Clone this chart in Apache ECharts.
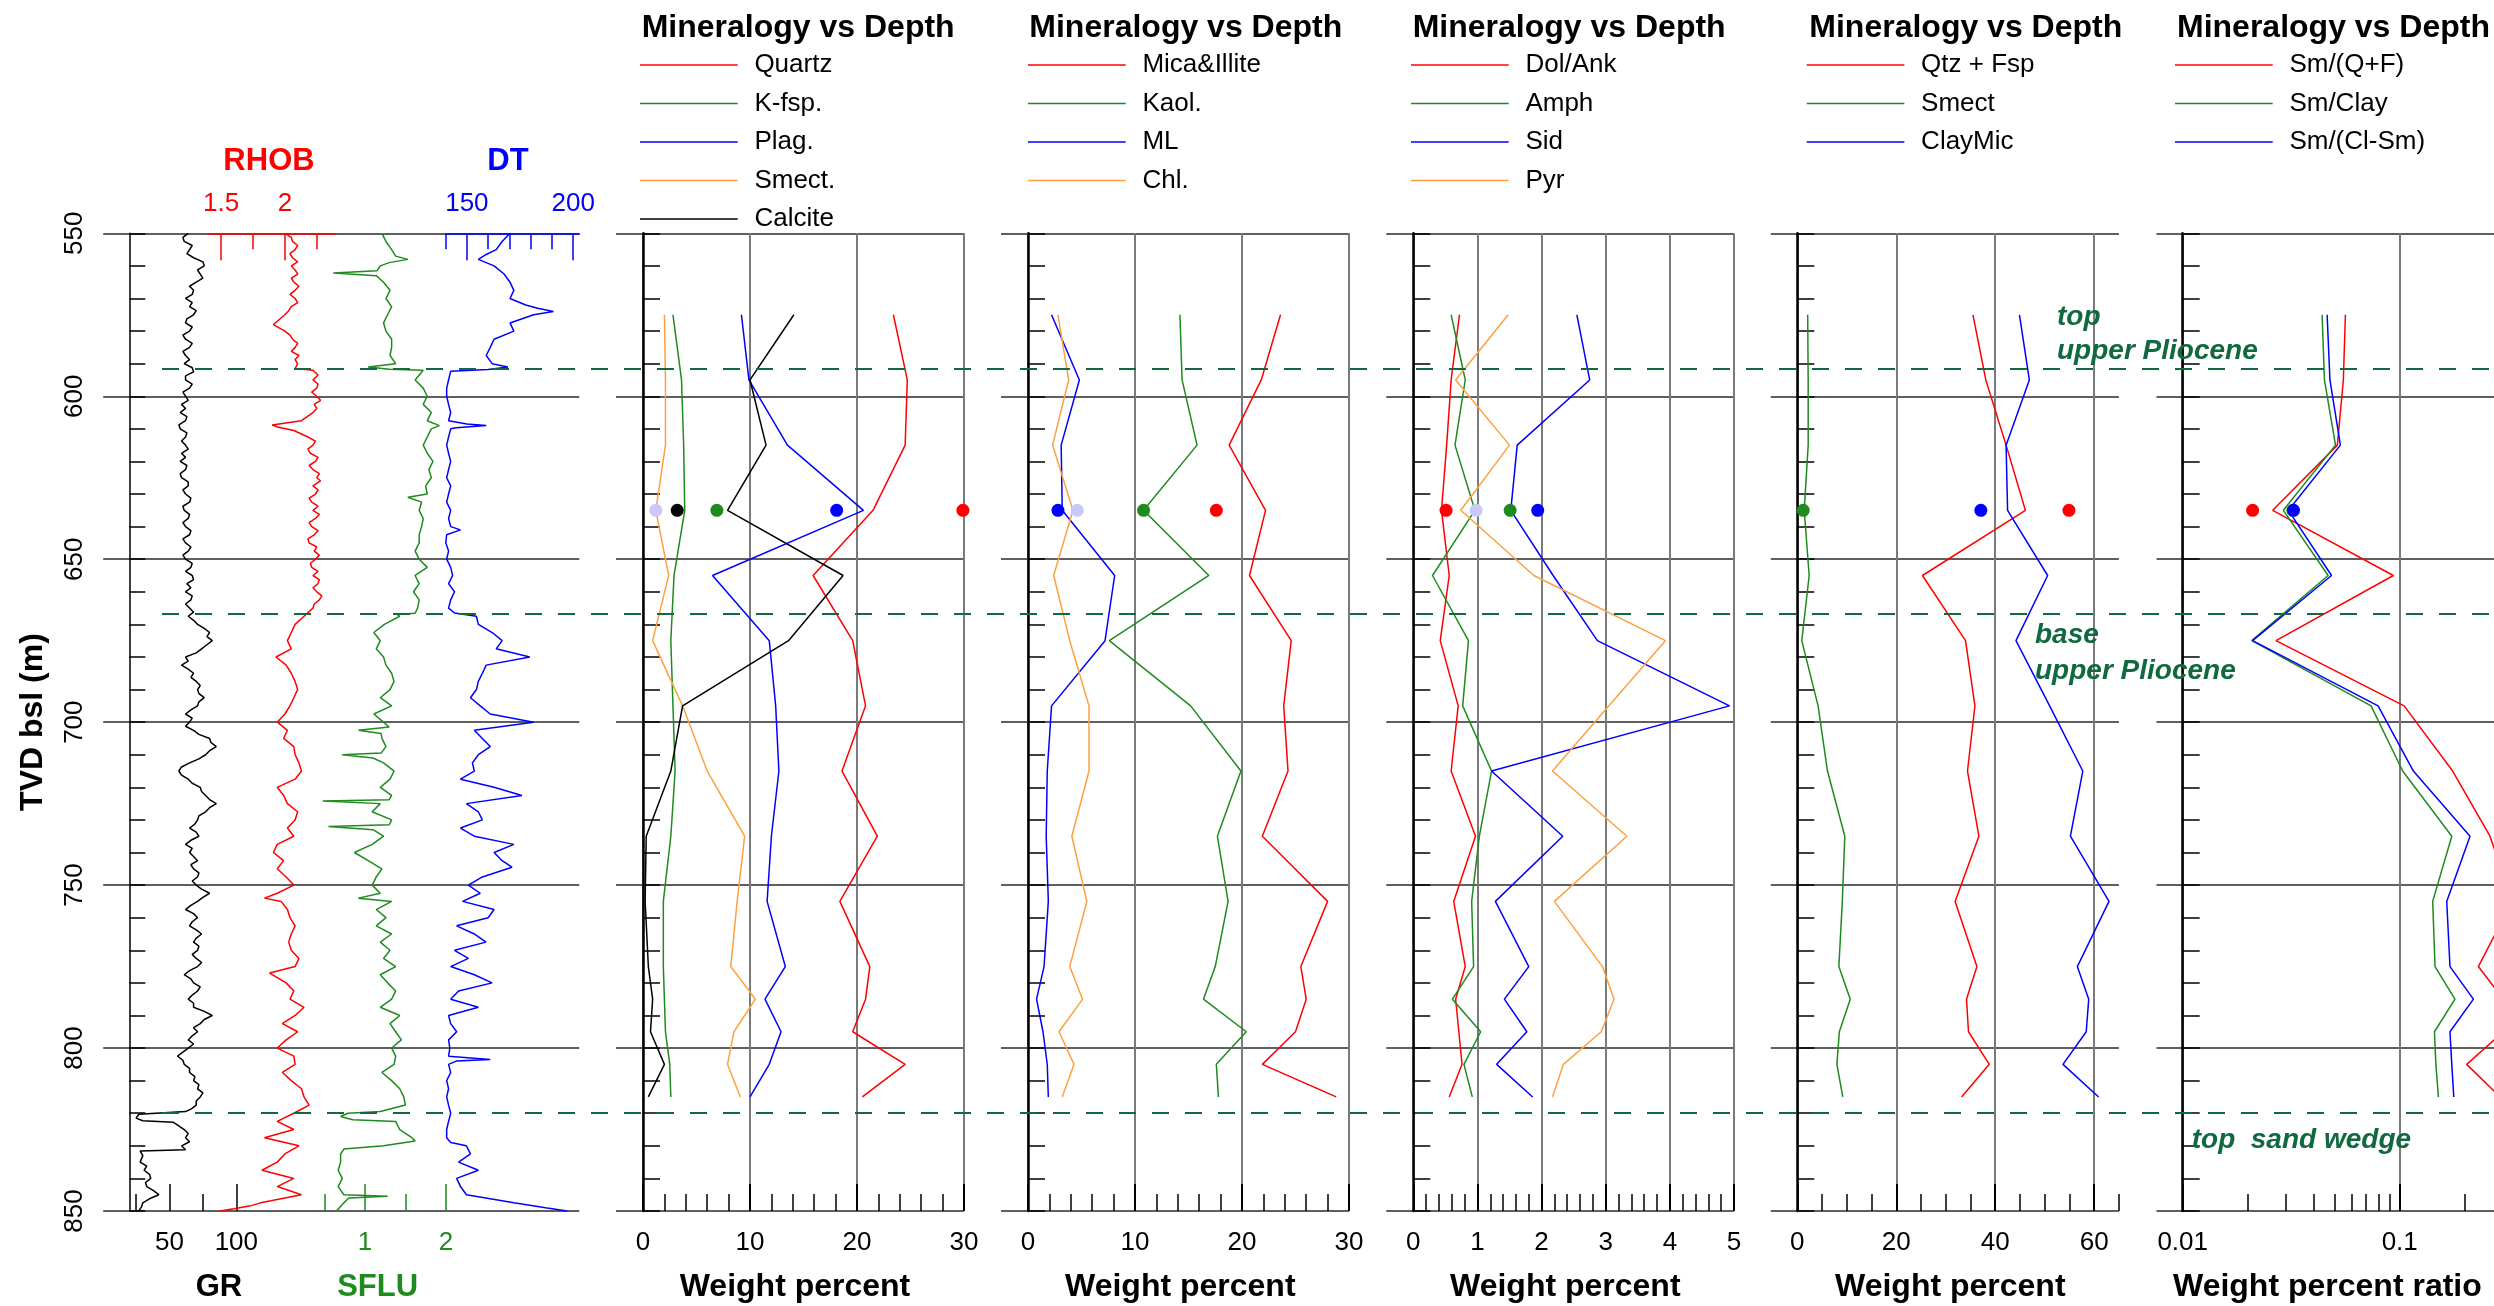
<!DOCTYPE html>
<html>
<head>
<meta charset="utf-8">
<title>Well logs and mineralogy vs depth</title>
<script src="https://cdn.jsdelivr.net/npm/echarts@6.0.0/dist/echarts.min.js"></script>
<style>
html,body{margin:0;padding:0;background:#fff;}
#chart{width:2494px;height:1306px;}
</style>
</head>
<body>
<div id="chart"></div>
<script>
// ================= DATA =================
const depthMin = 550, depthMax = 850;
const depthLabels = [550, 600, 650, 700, 750, 800, 850];

// Well logs: [depth (m), value]
const grLog = [[550,64],[551.25,60],[552.5,61],[553.75,67],[555,65],[556.25,63],[557.5,68],[558.75,75],[560,76],[561.25,71],[562.5,73],[563.75,75],[565,70],[566.25,65],[567.5,68],[568.75,67],[570,62],[571.25,67],[572.5,65],[573.75,70],[575,68],[576.25,63],[577.5,62],[578.75,67],[580,65],[581.25,60],[582.5,62],[583.75,67],[585,65],[586.25,60],[587.5,62],[588.75,65],[590,61],[591.25,67],[592.5,68],[593.75,62],[595,62],[596.25,67],[597.5,65],[598.75,60],[600,62],[601.25,64],[602.5,59],[603.75,62],[605,58],[606.25,63],[607.5,62],[608.75,57],[610,58],[611.25,63],[612.5,62],[613.75,59],[615,62],[616.25,64],[617.5,59],[618.75,62],[620,58],[621.25,63],[622.5,62],[623.75,58],[625,59],[626.25,64],[627.5,64],[628.75,60],[630,62],[631.25,66],[632.5,65],[633.75,60],[635,61],[636.25,65],[637.5,64],[638.75,60],[640,62],[641.25,66],[642.5,65],[643.75,60],[645,62],[646.25,66],[647.5,64],[648.75,60],[650,62],[651.25,67],[652.5,66],[653.75,62],[655,67],[656.25,68],[657.5,63],[658.75,66],[660,62],[661.25,67],[662.5,66],[663.75,62],[665,65],[666.25,68],[667.5,64],[668.75,68],[670,71],[671.25,76],[672.5,80],[673.75,78],[675,82],[676.25,78],[677.5,74],[678.75,70],[680,62],[681.25,64],[682.5,59],[683.75,64],[685,68],[686.25,66],[687.5,70],[688.75,73],[690,71],[691.25,72],[692.5,76],[693.75,72],[695,71],[696.25,66],[697.5,62],[698.75,67],[700,65],[701.25,62],[702.5,68],[703.75,72],[705,80],[706.25,81],[707.5,85],[708.75,80],[710,77],[711.25,72],[712.5,65],[713.75,59],[715,57],[716.25,59],[717.5,64],[718.75,67],[720,73],[721.25,74],[722.5,77],[723.75,80],[725,85],[726.25,80],[727.5,77],[728.75,72],[730,71],[731.25,69],[732.5,65],[733.75,70],[735,72],[736.25,66],[737.5,62],[738.75,67],[740,65],[741.25,68],[742.5,71],[743.75,66],[745,68],[746.25,72],[747.5,71],[748.75,67],[750,70],[751.25,74],[752.5,80],[753.75,75],[755,71],[756.25,66],[757.5,62],[758.75,68],[760,71],[761.25,67],[762.5,65],[763.75,70],[765,74],[766.25,70],[767.5,68],[768.75,72],[770,71],[771.25,67],[772.5,70],[773.75,74],[775,71],[776.25,65],[777.5,61],[778.75,66],[780,68],[781.25,73],[782.5,71],[783.75,67],[785,64],[786.25,68],[787.5,68],[788.75,76],[790,82],[791.25,76],[792.5,73],[793.75,68],[795,71],[796.25,67],[797.5,64],[798.75,68],[800,64],[801.25,60],[802.5,56],[803.75,60],[805,61],[806.25,65],[807.5,65],[808.75,69],[810,68],[811.25,72],[812.5,71],[813.75,75],[815,73],[816.25,70],[817.5,70],[818.75,66],[819.5,62],[820.3,27],[821.5,25],[822.3,30],[822.8,53],[825,61],[826.25,64],[827.5,62],[828.75,65],[830,59],[831.2,62],[831.6,28],[833,30],[835,28],[836.25,33],[837.5,31],[838.75,35],[840,36],[841.25,32],[842.5,33],[843.75,38],[845,42],[846.25,35],[847.5,30],[848.75,29],[850,27]];

const rhobLog = [[550,2.0],[551.25,2.05],[552.5,2.06],[553.75,2.1],[555,2.08],[556.25,2.04],[557.5,2.06],[558.75,2.1],[560,2.05],[561.25,2.08],[562.5,2.1],[563.75,2.05],[565,2.07],[566.25,2.11],[567.5,2.08],[568.75,2.04],[570,2.08],[571.25,2.1],[572.5,2.05],[573.75,2.03],[575,2.0],[577,1.94],[578,1.91],[580,2.0],[581.25,2.04],[582.5,2.06],[583.75,2.1],[585,2.08],[586.25,2.05],[587.5,2.11],[588.75,2.08],[590,2.1],[591.5,2.08],[592,2.22],[593.5,2.26],[595,2.22],[596.25,2.26],[597.5,2.25],[598.75,2.21],[600,2.25],[601.25,2.28],[602.5,2.23],[603.75,2.25],[605,2.22],[607.5,2.13],[608.8,1.9],[609.5,1.95],[610.5,2.07],[612.5,2.18],[613.75,2.24],[615,2.22],[616.25,2.18],[617.5,2.2],[618.75,2.26],[620,2.24],[621.25,2.19],[622.5,2.22],[623.75,2.27],[625,2.25],[626,2.28],[627.5,2.22],[628.75,2.26],[630,2.24],[631.25,2.19],[632.5,2.21],[633.75,2.26],[635,2.22],[636.25,2.27],[637.5,2.24],[638.75,2.19],[640,2.21],[641.25,2.26],[642.5,2.23],[643.75,2.18],[645,2.19],[646.25,2.25],[647.5,2.23],[648.75,2.27],[650,2.24],[651.25,2.2],[652.5,2.21],[653.75,2.26],[655,2.22],[656.25,2.27],[657.5,2.26],[658.75,2.22],[660,2.25],[661.25,2.29],[662.5,2.27],[663.75,2.23],[665,2.22],[667.5,2.15],[670,2.08],[672.5,2.05],[675,2.02],[677.5,2.05],[680,1.93],[682.5,2.01],[685,2.05],[687.5,2.08],[690,2.1],[692.5,2.07],[695,2.04],[697.5,2.0],[700,1.94],[702.5,2.02],[705,1.99],[707.5,2.07],[710,2.08],[712.5,2.11],[715,2.13],[717.5,2.08],[720,1.94],[722.5,1.99],[725,2.02],[727.5,2.1],[730,2.08],[732.5,2.02],[735,2.07],[737.5,1.94],[740,1.91],[742.5,1.99],[745,1.94],[747.5,2.01],[750,2.07],[752.5,1.94],[754,1.84],[755,1.97],[757.5,2.02],[760,2.04],[762.5,2.08],[765,2.05],[767.5,2.03],[770,2.05],[772.5,2.11],[775,2.08],[777,1.88],[780,2.01],[782.5,2.07],[785,2.04],[787.5,2.15],[790,2.08],[792.5,1.98],[795,2.1],[797.5,2.01],[800,1.94],[802.5,2.07],[805,2.08],[807.5,1.98],[810,2.05],[812.5,2.13],[815,2.15],[817.5,2.19],[820,2.07],[822.5,1.94],[825,2.07],[827.5,1.84],[830,2.11],[832.5,2.0],[835,1.94],[837.5,1.82],[840,2.07],[842.5,1.94],[845,2.13],[847.5,1.81],[848.5,1.72],[849.3,1.6],[850,1.49]];

const sfluLog = [[550,1.21],[552.5,1.26],[555,1.33],[557,1.38],[558,1.53],[559,1.3],[560,1.19],[561.5,1.15],[562.2,0.61],[563,1.14],[565,1.23],[567.5,1.31],[570,1.26],[572.5,1.33],[575,1.28],[577.5,1.23],[580,1.26],[582.5,1.33],[585,1.33],[587.5,1.31],[590,1.38],[591,1.04],[591.7,1.3],[592,1.72],[595,1.62],[597.5,1.72],[600,1.77],[602.5,1.72],[605,1.82],[607.5,1.77],[609,1.92],[610,1.82],[612.5,1.77],[615,1.72],[617.5,1.77],[620,1.84],[622.5,1.79],[625,1.82],[627.5,1.75],[630,1.77],[631,1.53],[632.5,1.7],[635,1.67],[637.5,1.72],[640,1.7],[642.5,1.67],[645,1.67],[647.5,1.62],[650,1.67],[652.5,1.77],[655,1.62],[657.5,1.67],[660,1.6],[662.5,1.67],[665,1.65],[666.6,1.62],[667,1.4],[667.5,1.43],[670,1.24],[672.5,1.11],[675,1.19],[677.5,1.14],[680,1.23],[682.5,1.26],[685,1.33],[687.5,1.36],[690,1.31],[692.5,1.19],[695,1.33],[697.5,1.11],[700,1.23],[701.5,1.3],[702.5,0.92],[703.5,1.2],[705,1.21],[707.5,1.26],[709.5,1.2],[710,0.72],[711,1.1],[712.5,1.23],[715,1.36],[717.5,1.31],[720,1.19],[722.5,1.33],[723.8,1.3],[724.2,0.48],[725,1.19],[727.5,1.09],[730,1.33],[731.5,1.3],[732,0.55],[733,1.1],[735,1.23],[737.5,1.09],[740,0.87],[742.5,1.04],[745,1.21],[747.5,1.14],[750,1.09],[752.5,1.19],[754,0.92],[755,1.33],[757.5,1.14],[760,1.26],[762.5,1.14],[765,1.33],[767.5,1.19],[770,1.31],[772.5,1.23],[775,1.38],[777.5,1.19],[780,1.28],[782.5,1.38],[785,1.33],[787.5,1.19],[790,1.43],[792.5,1.31],[795,1.38],[797.5,1.45],[800,1.33],[802.5,1.38],[805,1.36],[807.5,1.21],[810,1.33],[812.5,1.43],[815,1.48],[817.5,1.5],[819.5,1.19],[820,0.79],[821,0.7],[822,0.85],[822.5,1.38],[825,1.43],[827.5,1.58],[828.5,1.62],[830,1.23],[831,0.74],[832.5,0.7],[835,0.7],[837.5,0.67],[840,0.72],[842.5,0.67],[845,0.74],[845.5,1.28],[846,0.8],[847.5,0.74],[850,0.65]];

const dtLog = [[550,170.3],[552.5,166.6],[555,163.8],[556.5,159.1],[558,155.4],[560,162.8],[562.5,167.5],[565,170.3],[567.5,172.1],[570,170.3],[572,177.7],[573,183.3],[574,190.7],[575,181.4],[577.5,170.3],[580,172.1],[582.5,162.8],[585,161],[587.5,159.1],[590,161.9],[591,169.3],[591.8,160],[592.3,142.4],[595,141.4],[597.5,140.5],[600,140.5],[602.5,141.4],[605,142.4],[607.5,141.4],[608.5,150],[609,159.1],[609.7,145],[610,142.4],[612.5,141.4],[615,140.5],[617.5,141.4],[620,142.4],[622.5,141.4],[625,140.5],[627.5,142.4],[630,141.4],[632.5,140.5],[635,142.4],[637.5,141.4],[640,142.4],[641,147],[642.5,140.5],[645,140.1],[647.5,141.4],[650,140.5],[652.5,142.4],[655,143.3],[657.5,141.4],[660,144.2],[662.5,142.4],[665,141.4],[666.5,144.2],[667.5,154.5],[670,155.4],[672.5,161.9],[675,166.6],[677.5,163.8],[680,179.6],[682.5,159.1],[685,157.3],[687.5,155.4],[690,154.5],[692.5,151.7],[695,156.3],[697.5,161],[700,181.4],[702.5,153.5],[705,157.3],[707.5,161],[710,155.4],[712.5,152.6],[715,153.5],[717.5,147],[720,162.8],[722.5,175.9],[725,149.8],[727.5,155.4],[730,157.3],[732.5,147],[735,153.5],[737.5,172.1],[740,162.8],[742.5,166.6],[744.5,171.2],[747.5,157.3],[750,150.7],[752.5,156.3],[755,148],[757.5,162.8],[760,160],[762.5,145.2],[765,153.5],[767.5,159],[770,144.2],[772.5,150.7],[775,142.4],[777.5,153.5],[780,161.9],[782.5,146.1],[785,142.4],[787.5,155.4],[790,141.4],[792.5,142.4],[795,145.2],[797.5,141.4],[800,142],[802.5,141.4],[803.5,161],[804,145],[805,141.4],[807.5,142.4],[810,140.5],[812.5,141.4],[815,140.5],[817.5,141.4],[820,142.4],[822.5,141.4],[825,140.5],[827.5,140.5],[829,142.4],[830,149.8],[832.5,151.7],[835,146.1],[837.5,155.4],[840,145.2],[842.5,147],[845,149.8],[847.5,172.1],[849,187],[850,197.2]];

// Log track tick values / labels
const grTickMajor = [50, 100], grTickMinor = [25, 75];
const sfluTickMajor = [1, 2], sfluTickMinor = [0.5, 1.5];
const rhobTickMajor = [1.5, 2], rhobTickMinor = [1.75, 2.25];
const dtTickMajor = [150, 200], dtTickMinor = [140, 160, 170, 180, 190];
const p4TickMajor = [0, 20, 40, 60];
const ratioTickMinor = [0.02,0.03,0.04,0.05,0.06,0.07,0.08,0.09,0.2,0.3,0.4,0.5,0.6,0.7,0.8,0.9];

// Stratigraphic horizons (depth, m)
const horizonDepths = [591.6, 666.6, 820];

// Mineralogy samples
const sampleDepth = [575, 595, 615, 635, 655, 675, 695, 715, 735, 755, 775, 785, 795, 805, 815];
const dotDepth = 635;

const quartz  = [23.4,24.7,24.5,21.5,15.9,19.6,20.8,18.6,21.9,18.4,21.2,20.8,19.6,24.5,20.5];
const kfsp    = [2.8,3.6,3.8,3.9,2.9,2.6,2.8,3.0,2.6,1.9,1.9,2.0,2.1,2.5,2.6];
const plag    = [9.2,9.9,13.5,20.6,6.5,11.8,12.4,12.7,12.0,11.6,13.3,11.4,12.9,11.8,10.0];
const smect1  = [2.0,2.1,2.1,1.2,2.4,0.9,3.7,6.0,9.5,8.8,8.2,10.5,8.5,7.9,9.1];
const calcite = [14.1,10.0,11.5,7.9,18.7,13.6,3.7,2.6,0.3,0.2,0.5,0.9,0.7,2.0,0.5];
const dots1   = [1.2, 3.2, 6.9, 18.1, 29.9];

const mica    = [23.6,21.8,18.8,22.2,20.7,24.6,23.9,24.3,21.9,28.0,25.5,26.0,25.0,21.9,28.8];
const kaol    = [14.2,14.4,15.8,10.8,16.9,7.6,15.2,19.9,17.7,18.7,17.5,16.4,20.4,17.6,17.8];
const ml      = [2.2,4.8,3.1,3.2,8.1,7.2,2.2,1.8,1.7,1.9,1.5,0.8,1.4,1.8,1.9];
const chl     = [2.8,3.8,2.3,4.2,2.4,3.9,5.7,5.7,4.1,5.5,3.9,5.1,2.9,4.3,3.2];
const dots2   = [2.8, 4.6, 10.8, 17.6];

const dolank  = [0.72,0.59,0.52,0.44,0.56,0.42,0.70,0.59,0.97,0.63,0.81,0.66,0.71,0.76,0.56];
const amph    = [0.59,0.81,0.65,0.96,0.30,0.86,0.77,1.22,1.03,0.91,0.94,0.61,1.05,0.79,0.92];
const sid     = [2.55,2.75,1.62,1.52,2.18,2.87,4.93,1.22,2.33,1.28,1.80,1.42,1.77,1.30,1.86];
const pyr     = [1.48,0.66,1.50,0.74,1.88,3.93,3.05,2.17,3.33,2.20,2.95,3.13,2.93,2.34,2.17];
const dots3   = [0.51, 0.98, 1.51, 1.94];

const qtzfsp  = [35.5,38.1,42.2,46.1,25.3,34.0,35.9,34.4,36.7,31.9,36.3,34.2,34.6,38.8,33.2];
const smect4  = [2.1,2.2,2.2,1.4,2.4,0.9,4.2,6.1,9.6,9.1,8.4,10.7,8.5,8.0,9.2];
const claymic = [44.9,46.9,42.2,42.5,50.6,44.2,51.0,57.7,55.2,63.0,56.6,58.9,58.4,53.7,60.9];
const dots4   = [1.2, 37.1, 54.9];

const smQF    = [0.0562,0.0550,0.0516,0.0260,0.0935,0.0269,0.1048,0.1754,0.2607,0.33,0.2304,0.30,0.30,0.2036,0.29];
const smClay  = [0.0439,0.0450,0.0506,0.0291,0.0468,0.0208,0.0738,0.1032,0.1738,0.1419,0.1455,0.1797,0.1446,0.1468,0.1508];
const smClSm  = [0.0463,0.0477,0.0533,0.0307,0.0485,0.0210,0.0795,0.1156,0.2109,0.1647,0.1705,0.2186,0.1705,0.1738,0.1775];
const dots5   = [0.021, 0.0322, 0.0324];

// ================= STYLE / LAYOUT =================
const FONT = '"Liberation Sans", Arial, Helvetica, sans-serif';
const RED = '#ff0000', GREEN = '#1e8b1e', BLUE = '#0000ff', ORANGE = '#ffa040', BLACK = '#000000', LAV = '#c8c8fa', HZ = '#10693f';
const TOP = 233.3, HEIGHT = 977.7;
const SPLIT = {show: true, lineStyle: {color: '#2a2a2a', width: 1.5}};

const grid = [], xAxis = [], yAxis = [], series = [], legend = [], graphic = [];

function addGrid(left, width, mode) {
  grid.push({left: left, width: width, top: TOP, height: HEIGHT, containLabel: false, outerBoundsMode: 'none'});
  const gi = grid.length - 1;
  const y = {type: 'value', gridIndex: gi, min: depthMin, max: depthMax, interval: 50, inverse: true};
  if (mode === 'hidden') {
    Object.assign(y, {show: false, axisLine: {show: false, onZero: false}, splitLine: {show: false}});
  } else if (mode === 'stub') {
    Object.assign(y, {axisLine: {show: false, onZero: false}, axisTick: {show: false}, axisLabel: {show: false}, splitLine: SPLIT});
  } else {
    const isLog = mode === 'log';
    Object.assign(y, {
      axisLine: {show: true, onZero: false, lineStyle: {color: BLACK, width: isLog ? 1.5 : 2.5}},
      axisTick: {show: true, inside: true, length: isLog ? 16 : 17, lineStyle: {color: BLACK, width: 1.5}},
      minorTick: {show: true, splitNumber: 5, length: isLog ? 16 : 17, lineStyle: {color: BLACK, width: 1.5}},
      axisLabel: {show: false},
      splitLine: SPLIT
    });
  }
  yAxis.push(y);
  return gi;
}
function addX(o) { xAxis.push(o); return xAxis.length - 1; }
function hiddenX(gi) {
  return addX({type: 'value', gridIndex: gi, min: 0, max: 1, show: false, axisLine: {show: false, onZero: false}, splitLine: {show: false}});
}
function customX(gi, pos, min, max, ticks, len, color, labels, extra) {
  return addX(Object.assign({
    type: 'value', gridIndex: gi, position: pos, min: min, max: max,
    axisLine: {show: false, onZero: false}, splitLine: {show: false},
    axisTick: {show: true, inside: true, length: len, customValues: ticks, lineStyle: {color: color, width: 1.5}},
    axisLabel: labels ? {show: true, customValues: labels, margin: pos === 'top' ? 16 : 19, fontSize: 26, color: color, fontFamily: FONT} : {show: false}
  }, extra || {}));
}

// ---- Log track ----
const gLog = addGrid(129.3, 450, 'log');
hiddenX(addGrid(103.2, 26.1, 'stub'));
const xGR = customX(gLog, 'bottom', 19.9, 356.7, grTickMajor, 27, BLACK, grTickMajor);
customX(gLog, 'bottom', 19.9, 356.7, grTickMinor, 17, BLACK, null);
const xSFLU = customX(gLog, 'bottom', -1.909, 3.647, sfluTickMajor, 27, GREEN, sfluTickMajor);
customX(gLog, 'bottom', -1.909, 3.647, sfluTickMinor, 17, GREEN, null);
const gRhob = addGrid(208.4, 127.5, 'hidden');
const xRHOB = customX(gRhob, 'top', 1.4, 2.4, rhobTickMajor, 27, RED, rhobTickMajor,
  {axisLine: {show: true, onZero: false, lineStyle: {color: RED, width: 1.5}}, z: 5});
customX(gRhob, 'top', 1.4, 2.4, rhobTickMinor, 16, RED, null, {z: 5});
const gDt = addGrid(445.6, 133.7, 'hidden');
const xDT = customX(gDt, 'top', 140, 202.89, dtTickMajor, 27, BLUE, dtTickMajor,
  {axisLine: {show: true, onZero: false, lineStyle: {color: BLUE, width: 1.5}}, z: 5});
customX(gDt, 'top', 140, 202.89, dtTickMinor, 16, BLUE, null, {z: 5});

function logSeries(name, arr, xi, yi, color) {
  series.push({type: 'line', name: name, xAxisIndex: xi, yAxisIndex: yi,
    data: arr.map(function (p) { return [p[1], p[0]]; }),
    symbol: 'none', lineStyle: {color: color, width: 1.5}, itemStyle: {color: color}, silent: true, z: 3});
}
logSeries('GR', grLog, xGR, gLog, BLACK);
logSeries('SFLU', sfluLog, xSFLU, gLog, GREEN);
logSeries('RHOB', rhobLog, xRHOB, gRhob, RED);
logSeries('DT', dtLog, xDT, gDt, BLUE);

// ---- Mineralogy panels ----
const panels = [
  {axisLeft: 643, width: 321, stubW: 27, min: 0, max: 30, major: 10, minor: 2, legendLeft: 640,
   names: ['Quartz', 'K-fsp.', 'Plag.', 'Smect.', 'Calcite'], values: [quartz, kfsp, plag, smect1, calcite],
   colors: [RED, GREEN, BLUE, ORANGE, BLACK], dots: dots1, dotColors: [LAV, BLACK, GREEN, BLUE, RED]},
  {axisLeft: 1028, width: 321, stubW: 27, min: 0, max: 30, major: 10, minor: 2, legendLeft: 1028,
   names: ['Mica&Illite', 'Kaol.', 'ML', 'Chl.'], values: [mica, kaol, ml, chl],
   colors: [RED, GREEN, BLUE, ORANGE], dots: dots2, dotColors: [BLUE, LAV, GREEN, RED]},
  {axisLeft: 1413.3, width: 320.7, stubW: 27, min: 0, max: 5, major: 1, minor: 0.2, legendLeft: 1411,
   names: ['Dol/Ank', 'Amph', 'Sid', 'Pyr'], values: [dolank, amph, sid, pyr],
   colors: [RED, GREEN, BLUE, ORANGE], dots: dots3, dotColors: [RED, LAV, GREEN, BLUE]},
  {axisLeft: 1797.3, width: 321.6, stubW: 26.5, min: 0, max: 65, majorCustom: p4TickMajor, minor: 5, legendLeft: 1806.7,
   names: ['Qtz + Fsp', 'Smect', 'ClayMic'], values: [qtzfsp, smect4, claymic],
   colors: [RED, GREEN, BLUE], dots: dots4, dotColors: [GREEN, BLUE, RED]},
  {axisLeft: 2182.7, width: 434, stubW: 26.2, log: true, min: 0.01, max: 1, minorCustom: ratioTickMinor, legendLeft: 2175,
   names: ['Sm/(Q+F)', 'Sm/Clay', 'Sm/(Cl-Sm)'], values: [smQF, smClay, smClSm],
   colors: [RED, GREEN, BLUE], dots: dots5, dotColors: [RED, GREEN, BLUE]}
];

const MAJOR_TICK = {show: true, inside: true, length: 27, lineStyle: {color: BLACK, width: 2}};
const MINOR_TICK = {show: true, inside: true, length: 17, lineStyle: {color: BLACK, width: 1.5}};
const VSPLIT = {show: true, lineStyle: {color: '#7a7a7a', width: 2}};
const LABEL = {show: true, margin: 19, fontSize: 26, color: BLACK, fontFamily: FONT};

panels.forEach(function (p) {
  const g = addGrid(p.axisLeft, p.width, 'main');
  hiddenX(addGrid(p.axisLeft - p.stubW, p.stubW, 'stub'));
  let xi;
  const base = {gridIndex: g, position: 'bottom', min: p.min, max: p.max, axisLine: {show: false, onZero: false}};
  if (p.log) {
    xi = addX(Object.assign({type: 'log', logBase: 10, axisTick: MAJOR_TICK, axisLabel: LABEL, splitLine: VSPLIT}, base));
    addX(Object.assign({type: 'log', logBase: 10,
      axisTick: Object.assign({customValues: p.minorCustom}, MINOR_TICK), axisLabel: {show: false}, splitLine: {show: false}}, base));
  } else if (p.majorCustom) {
    xi = addX(Object.assign({type: 'value',
      axisTick: Object.assign({customValues: p.majorCustom}, MAJOR_TICK),
      axisLabel: Object.assign({customValues: p.majorCustom}, LABEL), splitLine: VSPLIT}, base));
    addX(Object.assign({type: 'value', interval: p.minor, axisTick: MINOR_TICK, axisLabel: {show: false}, splitLine: {show: false}}, base));
  } else {
    xi = addX(Object.assign({type: 'value', interval: p.major, axisTick: MAJOR_TICK, axisLabel: LABEL, splitLine: VSPLIT}, base));
    addX(Object.assign({type: 'value', interval: p.minor, axisTick: MINOR_TICK, axisLabel: {show: false}, splitLine: {show: false}}, base));
  }
  p.names.forEach(function (nm, k) {
    series.push({type: 'line', name: nm, xAxisIndex: xi, yAxisIndex: g,
      data: sampleDepth.map(function (d, i) { return [p.values[k][i], d]; }),
      symbol: 'none', lineStyle: {color: p.colors[k], width: 1.5}, itemStyle: {color: p.colors[k]}, silent: true, z: 3});
  });
  series.push({type: 'scatter', xAxisIndex: xi, yAxisIndex: g, symbolSize: 13, silent: true, z: 4,
    data: p.dots.map(function (v, k) { return {value: [v, dotDepth], itemStyle: {color: p.dotColors[k], opacity: 1}}; })});
  legend.push({data: p.names, left: p.legendLeft, top: 52, orient: 'vertical', padding: 0,
    icon: 'rect', itemWidth: 97.7, itemHeight: 1.5, itemGap: 12.5, selectedMode: false,
    textStyle: {fontFamily: FONT, fontSize: 26, color: BLACK, padding: [0, 0, 0, 11.7]}});
});

// ---- Horizon dashed lines across all tracks ----
const gH = addGrid(162, 2332, 'hidden');
const xH = hiddenX(gH);
series.push({type: 'line', xAxisIndex: xH, yAxisIndex: gH, data: [[0, depthMin]], symbol: 'none', silent: true, z: 6,
  lineStyle: {opacity: 0},
  markLine: {silent: true, symbol: ['none', 'none'], label: {show: false}, animation: false,
    lineStyle: {color: HZ, width: 2, type: [17, 16]},
    data: horizonDepths.map(function (d) { return {yAxis: d}; })}});

// ---- Free text ----
function txt(x, y, text, o) {
  graphic.push({type: 'text', x: x, y: y, rotation: o.rot || 0, silent: true, z: 10,
    style: {text: text, fontFamily: FONT, fontSize: o.size, fontWeight: o.bold ? 'bold' : 'normal',
      fontStyle: o.italic ? 'italic' : 'normal', fill: o.color || BLACK,
      align: o.align || 'left', verticalAlign: 'middle'}});
}
txt(269, 161.5, 'RHOB', {size: 31, bold: true, color: RED, align: 'center'});
txt(508, 161.5, 'DT', {size: 31, bold: true, color: BLUE, align: 'center'});
txt(219, 1287.5, 'GR', {size: 31, bold: true, color: BLACK, align: 'center'});
txt(377.6, 1287.5, 'SFLU', {size: 31, bold: true, color: GREEN, align: 'center'});
txt(33.6, 722, 'TVD bsl (m)', {size: 32, bold: true, align: 'center', rot: Math.PI / 2});
[641.7, 1029.3, 1412.7, 1809.3, 2177].forEach(function (x) {
  txt(x, 28.5, 'Mineralogy vs Depth', {size: 32, bold: true});
});
[795, 1180.3, 1565.3, 1950.3].forEach(function (x) {
  txt(x, 1287.5, 'Weight percent', {size: 32, bold: true, align: 'center'});
});
txt(2173, 1287.5, 'Weight percent ratio', {size: 32, bold: true});
const annot = {size: 28, bold: true, italic: true, color: HZ};
txt(2057, 317, 'top', annot);
txt(2057, 351, 'upper Pliocene', annot);
txt(2035, 635, 'base', annot);
txt(2035, 671, 'upper Pliocene', annot);
txt(2191.7, 1140, 'top  sand wedge', annot);

const chart = echarts.init(document.getElementById('chart'), null, {renderer: 'canvas'});
chart.setOption({
  animation: false,
  backgroundColor: '#ffffff',
  textStyle: {fontFamily: FONT},
  grid: grid, xAxis: xAxis, yAxis: yAxis, series: series, legend: legend, graphic: graphic
});

// Depth tick labels of the log track, rotated, placed through the depth axis scale
depthLabels.forEach(function (v) {
  const y = chart.convertToPixel({yAxisIndex: gLog}, v);
  txt(75, y, String(v), {size: 26, align: 'center', rot: Math.PI / 2});
});
chart.setOption({graphic: graphic});
</script>
</body>
</html>
